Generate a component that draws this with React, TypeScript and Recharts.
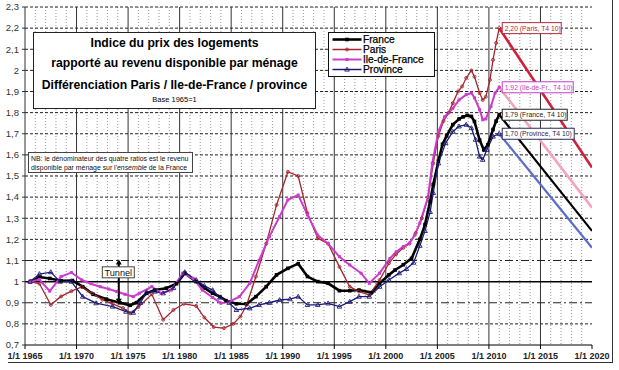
import React from 'react';
import { LineChart, Line, XAxis, YAxis, CartesianGrid, ReferenceLine, ReferenceDot, Legend } from 'recharts';

// index base 1965 = 1, points are [year, value]
const france = [
  [1965.5, 1.0], [1966.4, 1.022], [1967.4, 1.015], [1968.5, 1.004], [1969.6, 1.005], [1970.6, 0.976],
  [1971.6, 0.94], [1972.9, 0.917], [1974.2, 0.9], [1975.2, 0.888], [1975.8, 0.9], [1976.8, 0.945],
  [1977.6, 0.96], [1978.7, 0.969], [1979.7, 0.99], [1980.5, 1.04], [1981.6, 1.0], [1982.4, 0.97],
  [1983.2, 0.945], [1983.9, 0.929], [1984.5, 0.91], [1985.5, 0.895], [1986.5, 0.894], [1987.4, 0.929],
  [1988.4, 0.976], [1989.4, 1.032], [1990.5, 1.063], [1991.5, 1.085], [1992.4, 1.024], [1993.4, 1.0],
  [1994.4, 0.992], [1995.5, 0.957], [1996.5, 0.957], [1997.4, 0.96], [1998.6, 0.948], [1999.4, 0.992],
  [2000.3, 1.032], [2000.9, 1.055], [2001.7, 1.08], [2002.5, 1.11], [2003.3, 1.2], [2003.8, 1.27],
  [2004.3, 1.38], [2004.6, 1.46], [2005.1, 1.57], [2005.5, 1.65], [2005.9, 1.69], [2006.5, 1.743],
  [2007.1, 1.77], [2007.5, 1.78], [2007.9, 1.787], [2008.3, 1.782], [2008.6, 1.758], [2009.1, 1.67],
  [2009.5, 1.624], [2009.9, 1.648], [2010.4, 1.72], [2010.7, 1.76], [2011.0, 1.79],
];

const paris = [
  [1965.5, 1.0], [1966.4, 0.99], [1967.5, 0.89], [1968.5, 0.93], [1969.5, 0.955], [1970.5, 0.975],
  [1971.5, 0.945], [1972.5, 0.915], [1973.5, 0.895], [1974.5, 0.875], [1975.2, 0.85], [1976.0, 0.88],
  [1977.3, 0.94], [1978.4, 0.82], [1979.4, 0.866], [1980.4, 0.895], [1981.6, 0.885], [1982.4, 0.83],
  [1983.3, 0.785], [1984.3, 0.78], [1985.2, 0.8], [1985.9, 0.835], [1986.5, 0.89], [1987.4, 1.024],
  [1988.4, 1.18], [1989.4, 1.363], [1990.5, 1.52], [1991.5, 1.5], [1992.4, 1.324], [1993.4, 1.205],
  [1994.4, 1.18], [1995.5, 1.07], [1996.5, 0.976], [1997.4, 0.953], [1998.4, 0.937], [1999.4, 1.008],
  [2000.3, 1.087], [2001.0, 1.13], [2001.7, 1.16], [2002.3, 1.18], [2002.9, 1.23], [2003.5, 1.3],
  [2004.1, 1.4], [2004.6, 1.56], [2005.1, 1.69], [2005.6, 1.76], [2006.1, 1.8], [2006.5, 1.845],
  [2007.0, 1.9], [2007.4, 1.924], [2007.8, 1.964], [2008.3, 2.0], [2008.6, 1.97], [2009.1, 1.893],
  [2009.4, 1.86], [2009.7, 1.875], [2010.1, 1.955], [2010.4, 2.05], [2010.7, 2.13], [2011.0, 2.2],
];

const ileDeFrance = [
  [1965.5, 1.0], [1966.4, 1.01], [1967.4, 0.955], [1968.5, 1.024], [1969.5, 1.043], [1970.5, 1.008],
  [1971.4, 0.99], [1972.3, 0.976], [1973.1, 0.965], [1973.9, 0.953], [1974.7, 0.94], [1975.5, 0.929],
  [1976.1, 0.945], [1977.3, 0.976], [1978.2, 0.945], [1979.2, 0.96], [1980.3, 1.04], [1981.3, 1.016],
  [1982.2, 0.96], [1983.2, 0.925], [1984.0, 0.898], [1984.8, 0.905], [1985.8, 0.929], [1986.8, 0.992],
  [1987.7, 1.1], [1988.7, 1.213], [1989.7, 1.308], [1990.5, 1.387], [1991.5, 1.41], [1992.4, 1.316],
  [1993.4, 1.22], [1994.4, 1.18], [1995.5, 1.118], [1996.5, 1.079], [1997.6, 1.04], [1998.4, 0.992],
  [1999.4, 1.04], [2000.4, 1.11], [2001.0, 1.14], [2001.7, 1.166], [2002.3, 1.182], [2002.8, 1.22],
  [2003.3, 1.277], [2004.1, 1.4], [2004.5, 1.56], [2005.1, 1.71], [2005.7, 1.78], [2006.5, 1.82],
  [2007.1, 1.86], [2007.8, 1.885], [2008.3, 1.893], [2008.6, 1.87], [2009.1, 1.814], [2009.4, 1.766],
  [2009.7, 1.77], [2010.2, 1.83], [2010.6, 1.893], [2011.0, 1.92],
];

const province = [
  [1965.5, 1.0], [1966.4, 1.036], [1967.5, 1.045], [1968.4, 1.0], [1969.5, 1.0], [1970.6, 0.929],
  [1971.9, 0.898], [1973.5, 0.882], [1974.8, 0.858], [1975.5, 0.853], [1976.2, 0.9], [1976.8, 0.95],
  [1977.6, 0.953], [1978.4, 0.945], [1979.4, 0.97], [1980.5, 1.045], [1981.6, 1.008], [1982.4, 0.98],
  [1983.2, 0.96], [1983.9, 0.925], [1984.8, 0.9], [1985.5, 0.866], [1986.8, 0.874], [1987.7, 0.89],
  [1988.7, 0.9], [1989.7, 0.913], [1990.7, 0.917], [1991.5, 0.929], [1992.4, 0.89], [1993.4, 0.89],
  [1994.4, 0.897], [1995.5, 0.882], [1996.5, 0.905], [1997.4, 0.929], [1998.4, 0.929], [1999.4, 0.976],
  [2000.3, 1.008], [2001.3, 1.04], [2002.0, 1.06], [2002.7, 1.09], [2003.3, 1.17], [2003.8, 1.24],
  [2004.3, 1.33], [2004.6, 1.42], [2005.1, 1.56], [2005.8, 1.656], [2006.5, 1.71], [2007.1, 1.735],
  [2007.8, 1.743], [2008.3, 1.727], [2008.7, 1.672], [2009.1, 1.592], [2009.4, 1.577], [2009.8, 1.624],
  [2010.4, 1.687], [2011.0, 1.7],
];

// straight-line projections T4 2010 -> 2020
const projParis = [[2011.0, 2.2], [2020, 1.54]];
const projIdf = [[2011.0, 1.92], [2020, 1.35]];
const projFrance = [[2011.0, 1.79], [2020, 1.24]];
const projProvince = [[2011.0, 1.7], [2020, 1.16]];

const endLabels = [
  { t: 2011.0, v: 2.2, text: '2,20 (Paris, T4 10)', key: 'paris' },
  { t: 2011.0, v: 1.92, text: '1,92 (Ile-de-Fr., T4 10)', key: 'idf' },
  { t: 2011.0, v: 1.79, text: '1,79 (France, T4 10)', key: 'france' },
  { t: 2011.0, v: 1.7, text: '1,70 (Province, T4 10)', key: 'province' },
];

const xTicks = [1965, 1970, 1975, 1980, 1985, 1990, 1995, 2000, 2005, 2010, 2015, 2020];
const yTicks = [0.7, 0.8, 0.9, 1.0, 1.1, 1.2, 1.3, 1.4, 1.5, 1.6, 1.7, 1.8, 1.9, 2.0, 2.1, 2.2, 2.3];
const dashedY = [0.8, 1.2, 1.3, 1.4, 1.5, 1.6, 1.7, 1.8, 1.9, 2.0, 2.1, 2.2, 2.3];
const tunnelY = [0.9, 1.1];
const minorYears = Array.from({ length: 56 }, (_, i) => 1965 + i).filter((y) => y % 5 !== 0);

const FONT = '"Liberation Sans", Arial, Helvetica, sans-serif';

const labelStyle: Record<string, { color: string; w: number }> = {
  paris: { color: '#b02a3a', w: 59 },
  idf: { color: '#c040c8', w: 71 },
  france: { color: '#222222', w: 65 },
  province: { color: '#2a2a55', w: 72 },
};

const series = [
  { name: 'France', pts: france, color: '#000000', width: 2.6, marker: 'square' },
  { name: 'Paris', pts: paris, color: '#a3262e', width: 1.3, marker: 'circle' },
  { name: 'Ile-de-France', pts: ileDeFrance, color: '#cc3ccc', width: 2, marker: 'diamond' },
  { name: 'Province', pts: province, color: '#1c1c78', width: 1.3, marker: 'triangle' },
];

const projections = [
  { pts: projParis, color: '#cf1f3a', width: 2.6 },
  { pts: projIdf, color: '#f2a5bc', width: 2.6 },
  { pts: projFrance, color: '#000000', width: 2.2 },
  { pts: projProvince, color: '#5a6dcc', width: 2.2 },
];

const toRows = (pts: number[][]) => pts.map(([t, v]) => ({ t, v }));
const fmtY = (v: number) => String(Math.round(v * 10) / 10).replace('.', ',');

function marker(kind: string, color: string, cx: number, cy: number, key: any) {
  if (cx == null || cy == null) return <g key={key} />;
  switch (kind) {
    case 'square':
      return <rect key={key} x={cx - 1.8} y={cy - 1.8} width={3.6} height={3.6} fill={color} />;
    case 'circle':
      return <circle key={key} cx={cx} cy={cy} r={1.5} fill="none" stroke={color} strokeWidth={0.9} />;
    case 'diamond':
      return <rect key={key} x={cx - 1.5} y={cy - 1.5} width={3} height={3} fill={color} />;
    default:
      return (
        <path key={key} d={`M${cx},${cy - 2.4}L${cx + 2.3},${cy + 1.6}L${cx - 2.3},${cy + 1.6}Z`}
          fill="none" stroke={color} strokeWidth={0.9} />
      );
  }
}

const XTick = (props: any) => {
  const { x, y, payload } = props;
  return (
    <text x={x} y={y + 8} textAnchor="middle" fontSize={9} fontWeight="bold" fill="#222" fontFamily={FONT}>
      {`1/1 ${payload.value}`}
    </text>
  );
};

const YTick = (props: any) => {
  const { x, y, payload } = props;
  return (
    <text x={x - 1} y={y + 3.3} textAnchor="end" fontSize={9.5} fill="#333" fontFamily={FONT}>
      {fmtY(payload.value)}
    </text>
  );
};

const LegendBox = () => (
  <div style={{ width: 107, height: 45, background: '#fff', border: '1.5px solid #111', boxSizing: 'border-box' }}>
    <svg width={104} height={42} style={{ display: 'block' }}>
      {series.map((s, i) => {
        const cy = 6.5 + i * 10;
        return (
          <g key={s.name}>
            <line x1={3.5} x2={32.5} y1={cy} y2={cy} stroke={s.color} strokeWidth={Math.max(s.width, 1.5)} />
            {marker(s.marker, s.color, 18, cy, 'm' + i)}
            <text x={34} y={cy + 3.6} fontSize={10.2} fill="#000" stroke="#000" strokeWidth={0.25} fontFamily={FONT}>
              {s.name}
            </text>
          </g>
        );
      })}
    </svg>
  </div>
);

export default function App() {
  return (
    <div style={{ position: 'absolute', left: 0, top: 0, width: 619, height: 370, background: '#fff', fontFamily: FONT }}>
      <LineChart width={619} height={370} margin={{ top: 7, right: 27, bottom: 0, left: 0 }}>
        <CartesianGrid horizontal={false} verticalValues={minorYears} stroke="#9a9a9a" strokeDasharray="1 2" />
        <CartesianGrid horizontal={false} verticalValues={xTicks.slice(1, -1)} stroke="#333" />
        <CartesianGrid vertical={false} horizontalValues={dashedY} stroke="#222" strokeDasharray="3 2" />
        <CartesianGrid vertical={false} horizontalValues={tunnelY} stroke="#222" strokeDasharray="8 3 2 3" />
        <XAxis dataKey="t" type="number" domain={[1965, 2020]} ticks={xTicks} interval={0} allowDataOverflow
          height={25} tickSize={4} axisLine={{ stroke: '#000' }} tickLine={{ stroke: '#000' }} tick={<XTick />} />
        <YAxis type="number" domain={[0.7, 2.3]} ticks={yTicks} interval={0} allowDataOverflow width={25}
          tickSize={3} axisLine={{ stroke: '#333' }} tickLine={{ stroke: '#333' }} tick={<YTick />} />
        <ReferenceLine y={1} stroke="#000" strokeWidth={1.5} />

        {series.map((s) => (
          <Line key={s.name} data={toRows(s.pts)} dataKey="v" name={s.name} type="linear" stroke={s.color}
            strokeWidth={s.width} isAnimationActive={false}
            dot={(p: any) => marker(s.marker, s.color, p.cx, p.cy, p.index)} activeDot={false} />
        ))}

        <Line data={endLabels} dataKey="v" stroke="none" isAnimationActive={false} legendType="none" activeDot={false}
          dot={(p: any) => {
            const st = labelStyle[p.payload.key];
            return (
              <g key={'lbl' + p.index}>
                <rect x={p.cx + 3} y={p.cy - 5.5} width={st.w} height={11} fill="#fff" stroke={st.color} strokeWidth={1} />
                <text x={p.cx + 5.5} y={p.cy + 2.4} fontSize={6.8} fill={st.color} fontFamily={FONT}>{p.payload.text}</text>
              </g>
            );
          }} />

        {projections.map((p, i) => (
          <Line key={'proj' + i} data={toRows(p.pts)} dataKey="v" type="linear" stroke={p.color} strokeWidth={p.width}
            dot={false} activeDot={false} isAnimationActive={false} legendType="none" />
        ))}

        <ReferenceLine segment={[{ x: 1974.1, y: 0.905 }, { x: 1974.1, y: 1.095 }]} stroke="#000" strokeWidth={2} />
        <ReferenceDot x={1974.1} y={1.1} shape={(p: any) => (
          <path d={`M${p.cx},${p.cy - 1}L${p.cx + 3},${p.cy + 4}L${p.cx - 3},${p.cy + 4}Z`} fill="#000" />
        )} />
        <ReferenceDot x={1974.1} y={0.9} shape={(p: any) => (
          <path d={`M${p.cx},${p.cy + 1}L${p.cx + 3},${p.cy - 4}L${p.cx - 3},${p.cy - 4}Z`} fill="#000" />
        )} />
        <ReferenceDot x={1974.05} y={1.044} shape={(p: any) => (
          <g>
            <rect x={p.cx - 16} y={p.cy - 5.5} width={32} height={11} fill="#fff" stroke="#444" strokeWidth={1} />
            <text x={p.cx} y={p.cy + 3.3} textAnchor="middle" fontSize={9.2} fill="#111" fontFamily={FONT}>Tunnel</text>
          </g>
        )} />

        <Legend layout="vertical" align="center" verticalAlign="middle" content={() => <LegendBox />}
          wrapperStyle={{ position: 'absolute', left: 328, top: 32, width: 107, height: 45 }} />
      </LineChart>

      {/* title box */}
      <div style={{ position: 'absolute', left: 33, top: 32, width: 283, height: 77, background: '#fff',
        border: '1px solid #222', boxSizing: 'border-box', textAlign: 'center', color: '#000' }}>
        <div style={{ position: 'absolute', left: 0, right: 0, top: 3, fontSize: 12.2, fontWeight: 'bold', lineHeight: '14px' }}>
          Indice du prix des logements
        </div>
        <div style={{ position: 'absolute', left: 0, right: 0, top: 23, fontSize: 12.2, fontWeight: 'bold', lineHeight: '14px' }}>
          rapporté au revenu disponible par ménage
        </div>
        <div style={{ position: 'absolute', left: 0, right: 0, top: 45, fontSize: 12.2, fontWeight: 'bold', lineHeight: '14px' }}>
          Différenciation Paris / Ile-de-France / province
        </div>
        <div style={{ position: 'absolute', left: 0, right: 0, top: 62, fontSize: 7.5, lineHeight: '10px' }}>
          Base 1965=1
        </div>
      </div>

      {/* note box */}
      <div style={{ position: 'absolute', left: 28, top: 152, width: 165, height: 21, background: '#fff',
        border: '1px solid #444', boxSizing: 'border-box', fontSize: 6.9, lineHeight: '9px', color: '#111',
        padding: '1px 0 0 2px', whiteSpace: 'nowrap' }}>
        <div>NB: le dénominateur des quatre ratios est le revenu</div>
        <div>disponible par ménage sur l'<i>ensemble</i> de la France</div>
      </div>

      {/* chart frame edges */}
      <div style={{ position: 'absolute', left: 612, top: 0, width: 1, height: 363, background: '#333' }} />
      <div style={{ position: 'absolute', left: 8, top: 362, width: 605, height: 1, background: '#333' }} />
    </div>
  );
}
